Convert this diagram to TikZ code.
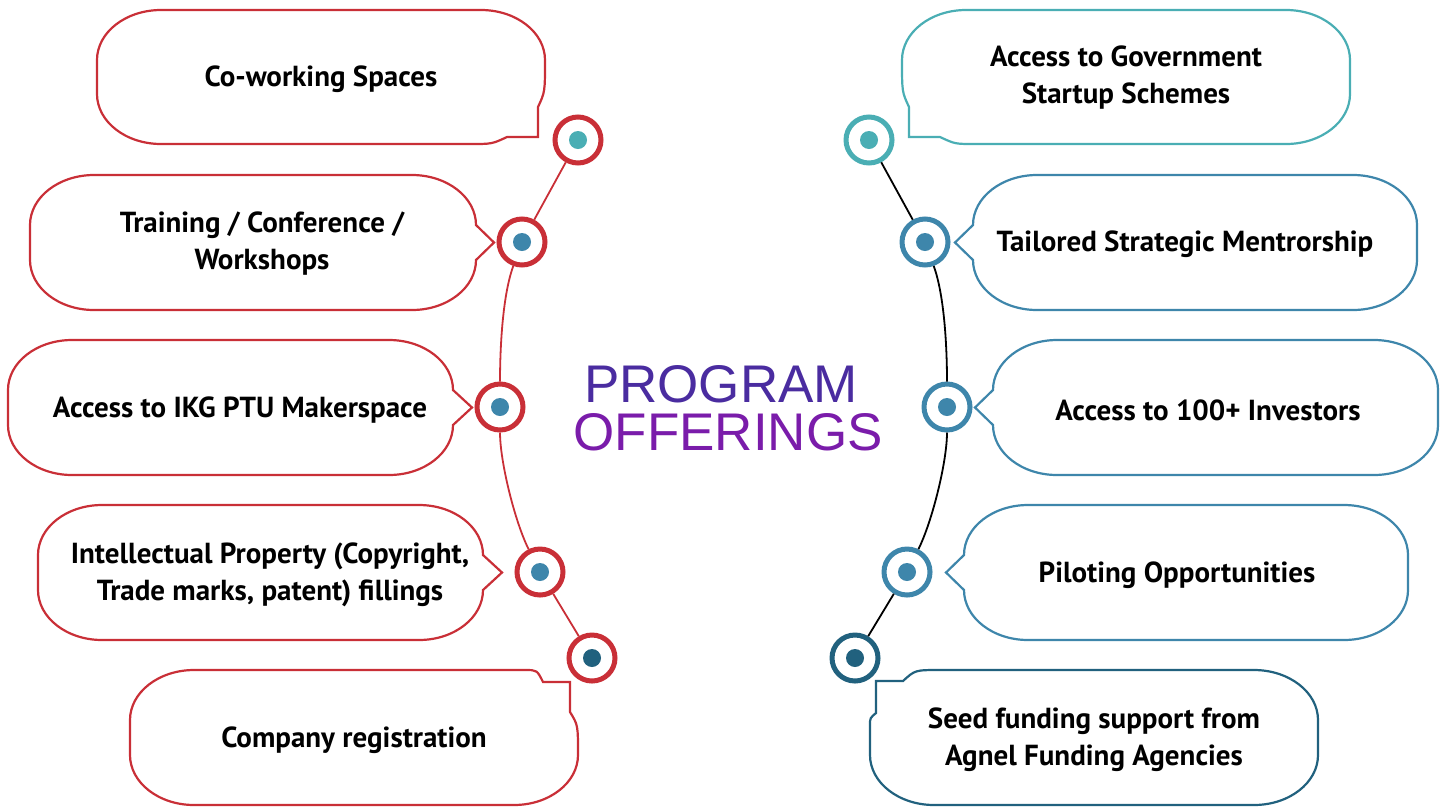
\documentclass[tikz,border=0pt]{standalone}
\usepackage{fontspec}
\setmainfont{PT Sans}
\newfontfamily\titlefont{Liberation Sans}
\definecolor{cred}{HTML}{C92F37}
\definecolor{cteal}{HTML}{4AAEB4}
\definecolor{cblue}{HTML}{3E86AB}
\definecolor{cdark}{HTML}{21617E}
\definecolor{cind}{HTML}{4A2CA0}
\definecolor{cpur}{HTML}{7A1CAA}
\tikzset{
  bub/.style={line width=2.2pt, fill=white},
  lbl/.style={font=\bfseries\fontsize{29}{37}\selectfont, align=center, inner sep=0pt, text=black},
  ring/.style={circle, draw=#1, line width=5pt, fill=white, minimum size=46pt, inner sep=0pt},
  link/.style={line width=1.8pt},
  ttl/.style={font=\titlefont\fontsize{53}{53}\selectfont, inner sep=0pt, anchor=base},
}
% bubble with pointer on the right: L,T,R,B,tipx,colour
\newcommand\bubPtR[6]{%
  \pgfmathsetmacro\mmid{(#2+#4)/2}%
  \draw[bub, draw=#6] ({#1+64},#2) -- ({#3-64},#2)
    arc[start angle=-90,end angle=0,x radius=64,y radius=50]
    -- (#5,\mmid) -- (#3,{#4-50})
    arc[start angle=0,end angle=90,x radius=64,y radius=50]
    -- ({#1+64},#4)
    arc[start angle=90,end angle=180,x radius=64,y radius=50]
    -- (#1,{#2+50})
    arc[start angle=180,end angle=270,x radius=64,y radius=50] -- cycle;}
% bubble with pointer on the left
\newcommand\bubPtL[6]{%
  \pgfmathsetmacro\mmid{(#2+#4)/2}%
  \draw[bub, draw=#6] ({#1+64},#2) -- ({#3-64},#2)
    arc[start angle=-90,end angle=0,x radius=64,y radius=50]
    -- (#3,{#4-50})
    arc[start angle=0,end angle=90,x radius=64,y radius=50]
    -- ({#1+64},#4)
    arc[start angle=90,end angle=180,x radius=64,y radius=50]
    -- (#5,\mmid) -- (#1,{#2+50})
    arc[start angle=180,end angle=270,x radius=64,y radius=50] -- cycle;}
\begin{document}
\begin{tikzpicture}[x=1pt,y=-1pt]
\useasboundingbox (0,0) rectangle (1447,807);
% ---------- left bubbles
\draw[bub, draw=cred] (161,10) -- (481,10)
  arc[start angle=-90,end angle=0,x radius=64,y radius=50]
  .. controls (545,92) .. (538,107) -- (538,137) -- (507,137)
  .. controls (492,144) .. (470,144) -- (161,144)
  arc[start angle=90,end angle=180,x radius=64,y radius=50]
  -- (97,60)
  arc[start angle=180,end angle=270,x radius=64,y radius=50] -- cycle;
\bubPtR{30}{175}{476}{310}{494}{cred}
\bubPtR{8}{340}{453}{475}{472}{cred}
\bubPtR{38}{505}{483}{640}{502}{cred}
\draw[bub, draw=cred] (194,670) -- (525,670)
  .. controls (537,670) .. (543,682) -- (570,682) -- (570,712)
  .. controls (578,725) .. (578,755)
  arc[start angle=0,end angle=90,x radius=64,y radius=50]
  -- (194,805)
  arc[start angle=90,end angle=180,x radius=64,y radius=50]
  -- (130,720)
  arc[start angle=180,end angle=270,x radius=64,y radius=50] -- cycle;
% ---------- right bubbles
\draw[bub, draw=cteal] (966,10) -- (1286,10)
  arc[start angle=-90,end angle=0,x radius=64,y radius=50]
  -- (1350,94)
  arc[start angle=0,end angle=90,x radius=64,y radius=50]
  -- (975,144) .. controls (955,144) .. (940,137) -- (909,137) -- (909,107)
  .. controls (902,92) .. (902,60)
  arc[start angle=180,end angle=270,x radius=64,y radius=50] -- cycle;
\bubPtL{973}{175}{1417}{310}{955}{cblue}
\bubPtL{993}{340}{1438}{475}{975}{cblue}
\bubPtL{964}{505}{1408}{640}{946}{cblue}
\draw[bub, draw=cdark] (940,670) -- (1254,670)
  arc[start angle=-90,end angle=0,x radius=64,y radius=50]
  -- (1318,755)
  arc[start angle=0,end angle=90,x radius=64,y radius=50]
  -- (934,805)
  arc[start angle=90,end angle=180,x radius=64,y radius=50]
  -- (870,725) .. controls (870,718) .. (876,713) -- (876,681) -- (903,681)
  .. controls (915,670) .. (940,670) -- cycle;
% ---------- texts
\node[lbl] (t1) at (321,79) {Co-working Spaces};
\node[lbl] (t2) at (262,244) {Training / Conference /\\Workshops};
\node[lbl] (t3) at (240,410) {Access to IKG PTU Makerspace};
\node[lbl] (t4) at (270,575) {Intellectual Property (Copyright,\\Trade marks, patent) fillings};
\node[lbl] (t5) at (354,740) {Company registration};
\node[lbl] (u1) at (1126,78) {Access to Government\\Startup Schemes};
\node[lbl] (u2) at (1185,244) {Tailored Strategic Mentrorship};
\node[lbl] (u3) at (1208,410) {Access to 100+ Investors};
\node[lbl] (u4) at (1177,575) {Piloting Opportunities};
\node[lbl] (u5) at (1094,740) {Seed funding support from\\Agnel Funding Agencies};
\node[ttl, text=cind] (p1) at (721,402) {PROGRAM};
\node[ttl, text=cpur] (p2) at (728,450) {OFFERINGS};
% ---------- rings
\node[ring=cred] (c1) at (578,140) {};
\node[ring=cred] (c2) at (522,242) {};
\node[ring=cred] (c3) at (500,407) {};
\node[ring=cred] (c4) at (540,572) {};
\node[ring=cred] (c5) at (592,658) {};
\node[ring=cteal] (r1) at (869,140) {};
\node[ring=cblue] (r2) at (925,242) {};
\node[ring=cblue] (r3) at (947,407) {};
\node[ring=cblue] (r4) at (907,572) {};
\node[ring=cdark] (r5) at (855,658) {};
\fill[cteal] (c1.center) circle (9);
\fill[cblue] (c2.center) circle (9);
\fill[cblue] (c3.center) circle (9);
\fill[cblue] (c4.center) circle (9);
\fill[cdark] (c5.center) circle (9);
\fill[cteal] (r1.center) circle (9);
\fill[cblue] (r2.center) circle (9);
\fill[cblue] (r3.center) circle (9);
\fill[cblue] (r4.center) circle (9);
\fill[cdark] (r5.center) circle (9);
% ---------- connectors
\draw[link, cred] (c1) -- (c2);
\draw[link, cred] (c2) .. controls +(-20,55) and +(0,-55) .. (c3);
\draw[link, cred] (c3) .. controls +(0,55) and +(-25,-50) .. (c4);
\draw[link, cred] (c4) -- (c5);
\draw[link, black] (r1) -- (r2);
\draw[link, black] (r2) .. controls +(20,55) and +(0,-55) .. (r3);
\draw[link, black] (r3) .. controls +(0,55) and +(25,-50) .. (r4);
\draw[link, black] (r4) -- (r5);
\end{tikzpicture}
\end{document}
